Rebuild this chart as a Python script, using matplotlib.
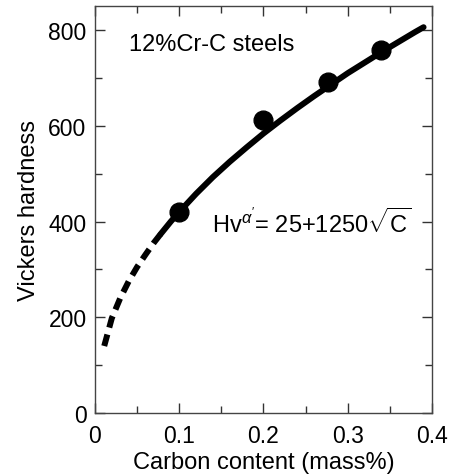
import matplotlib
import numpy as np

matplotlib.use("Agg")
import matplotlib.pyplot as plt
from matplotlib.ticker import MultipleLocator

plt.rcParams["font.family"] = ["Liberation Sans", "DejaVu Sans"]
plt.rcParams["mathtext.fontset"] = "custom"
plt.rcParams["mathtext.rm"] = "Liberation Sans"
plt.rcParams["mathtext.it"] = "Liberation Sans:italic"

# measured points
carbon_pts = [0.1, 0.2, 0.277, 0.34]
hv_pts = [420, 612, 691, 758]

# fitted curve (dashed part = extrapolation)
carbon_dash = [0.011, 0.02, 0.03, 0.04, 0.05, 0.06, 0.07, 0.078]
hv_dash = [140, 198, 240, 275, 305, 331, 356, 374]

carbon_fit = [0.078, 0.09, 0.10, 0.12, 0.14, 0.16, 0.18, 0.20, 0.22, 0.24,
              0.26, 0.28, 0.30, 0.32, 0.34, 0.36, 0.38, 0.39]
hv_fit = [374, 400, 420, 458, 493, 525, 555, 584, 611, 637,
          662, 686, 710, 732, 754, 775, 796, 806]

fig = plt.figure(figsize=(4.5, 4.77), dpi=100)
ax = fig.add_axes([0.211, 0.132, 0.749, 0.853])

ax.plot(carbon_dash, hv_dash, color="black", linewidth=4.3, linestyle=(0, (2.0, 1.2)),
        solid_capstyle="butt", dash_capstyle="butt")
ax.plot(carbon_fit, hv_fit, color="black", linewidth=4.3, solid_capstyle="round")
ax.plot(carbon_pts, hv_pts, "o", color="black", markersize=13.5)

ax.set_xlim(0, 0.4)
ax.set_ylim(0, 850)
ax.xaxis.set_major_locator(MultipleLocator(0.1))
ax.xaxis.set_minor_locator(MultipleLocator(0.05))
ax.yaxis.set_major_locator(MultipleLocator(200))
ax.yaxis.set_minor_locator(MultipleLocator(100))
ax.set_xticks([0, 0.1, 0.2, 0.3, 0.4])
ax.set_xticklabels(["0", "0.1", "0.2", "0.3", "0.4"])
ax.tick_params(which="both", direction="in", top=True, right=True, labelsize=16.5,
               width=1.0, color="#333333")
ax.tick_params(which="major", length=7, pad=6)
ax.tick_params(axis="x", which="major", pad=8)
ax.tick_params(which="minor", length=5)
for s in ax.spines.values():
    s.set_linewidth(1.0)
    s.set_color("#444444")

ax.set_xlabel("Carbon content (mass%)", fontsize=17, labelpad=3)
ax.set_ylabel("Vickers hardness", fontsize=17, labelpad=6)

ax.text(0.04, 770, "12%Cr-C steels", fontsize=17, va="center", ha="left")
ax.text(0.139, 399, r"Hv$^{\alpha'}$= 25+1250$\sqrt{\mathrm{C}}$", fontsize=17,
        va="center", ha="left")

fig.savefig("out.png", dpi=100)
